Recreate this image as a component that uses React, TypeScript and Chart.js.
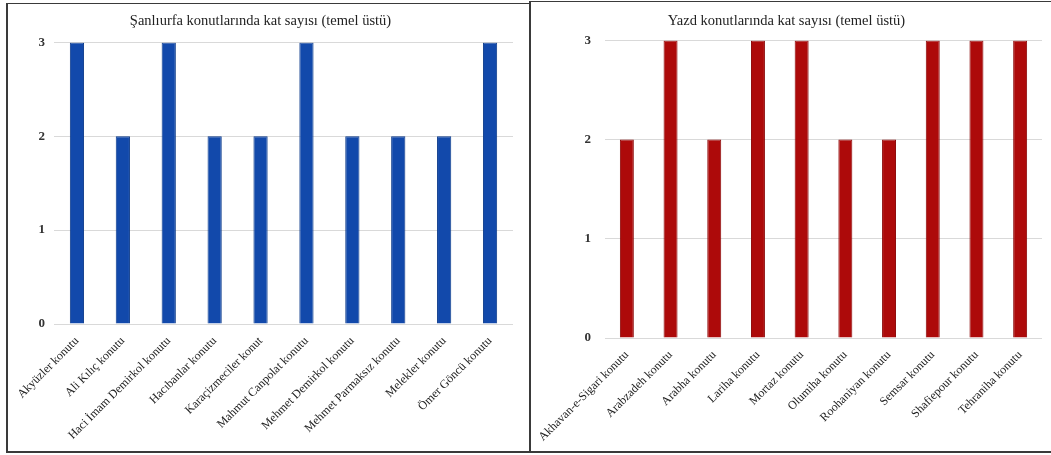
import React, { useEffect, useRef } from "react";
import { Chart, registerables } from "chart.js";

Chart.register(...registerables);

const leftTitle = "Şanlıurfa konutlarında kat sayısı (temel üstü)";
const leftCategories = [
  "Akyüzler konutu",
  "Ali Kılıç konutu",
  "Haci İmam Demirkol konutu",
  "Hacıbanlar konutu",
  "Karaçizmeciler konut",
  "Mahmut Canpolat konutu",
  "Mehmet Demirkol konutu",
  "Mehmet Parmaksız konutu",
  "Melekler konutu",
  "Ömer Göncü konutu",
];
const leftValues = [3, 2, 3, 2, 2, 3, 2, 2, 2, 3];

const rightTitle = "Yazd konutlarında kat sayısı (temel üstü)";
const rightCategories = [
  "Akhavan-e-Sigari konutu",
  "Arabzadeh konutu",
  "Arabha konutu",
  "Lariha konutu",
  "Mortaz konutu",
  "Olumiha konutu",
  "Roohaniyan konutu",
  "Semsar konutu",
  "Shafiepour konutu",
  "Tehraniha konutu",
];
const rightValues = [2, 3, 2, 3, 3, 2, 2, 3, 3, 3];

const yTicks = [0, 1, 2, 3];

const FONT = "'Liberation Serif', 'Times New Roman', serif";

type PanelProps = {
  title: string;
  categories: string[];
  values: number[];
  color: string;
  edge: string;
  width: number;
  height: number;
  yWidth: number;
  xHeight: number;
  padRight: number;
  titlePadTop: number;
  titlePadBottom: number;
  tickPad: number;
  barPct: number;
};

function Panel(p: PanelProps) {
  const ref = useRef<HTMLCanvasElement | null>(null);
  useEffect(() => {
    if (!ref.current) return;
    const chart = new Chart(ref.current, {
      type: "bar",
      data: {
        labels: p.categories,
        datasets: [
          {
            data: p.values,
            backgroundColor: p.color,
            borderColor: p.edge,
            borderWidth: 1,
            barPercentage: p.barPct,
            categoryPercentage: 1,
          },
        ],
      },
      options: {
        animation: false,
        responsive: false,
        maintainAspectRatio: false,
        layout: { padding: { left: 0, right: p.padRight, top: 0, bottom: 0 } },
        plugins: {
          legend: { display: false },
          tooltip: { enabled: false },
          title: {
            display: true,
            text: p.title,
            color: "#222222",
            font: { family: FONT, size: 14.5, weight: "normal" },
            padding: { top: p.titlePadTop, bottom: p.titlePadBottom },
          },
        },
        scales: {
          x: {
            grid: { display: false },
            border: { display: false },
            ticks: {
              color: "#222222",
              font: { family: FONT, size: 12 },
              minRotation: 45,
              maxRotation: 45,
              autoSkip: false,
              padding: 2,
            },
            afterFit: (s: any) => {
              s.height = p.xHeight;
            },
          },
          y: {
            min: 0,
            max: 3,
            afterBuildTicks: (s: any) => {
              s.ticks = yTicks.map((v) => ({ value: v }));
            },
            grid: { color: "#d9d9d9", lineWidth: 1, drawTicks: false },
            border: { display: false },
            ticks: {
              color: "#333333",
              font: { family: FONT, size: 13, weight: "bold" },
              padding: p.tickPad,
            },
            afterFit: (s: any) => {
              s.width = p.yWidth;
            },
          },
        },
      },
    });
    return () => chart.destroy();
  }, []);
  return <canvas ref={ref} width={p.width} height={p.height} style={{ display: "block", width: p.width, height: p.height }} />;
}

export default function App() {
  return (
    <div style={{ position: "absolute", left: 0, top: 0, width: 1051, height: 455, background: "#ffffff", overflow: "hidden" }}>
      <div
        style={{
          position: "absolute",
          left: 6,
          top: 3,
          width: 522,
          height: 447,
          borderLeft: "2px solid #3a3a3a",
          borderTop: "1px solid #3a3a3a",
          borderBottom: "2px solid #3a3a3a",
        }}
      >
        <div style={{ position: "absolute", left: 0, top: 0 }}>
          <Panel
            title={leftTitle}
            categories={leftCategories}
            values={leftValues}
            color="#1249ab"
            edge="#0b3a8a"
            width={522}
            height={447}
            yWidth={46}
            xHeight={127}
            padRight={17}
            titlePadTop={8}
            titlePadBottom={13}
            tickPad={9}
            barPct={0.31}
          />
        </div>
      </div>
      <div
        style={{
          position: "absolute",
          left: 529,
          top: 1,
          width: 522,
          height: 449,
          borderLeft: "2px solid #3a3a3a",
          borderTop: "1px solid #3a3a3a",
          borderBottom: "2px solid #3a3a3a",
        }}
      >
        <div style={{ position: "absolute", left: 0, top: 0 }}>
          <Panel
            title={rightTitle}
            categories={rightCategories}
            values={rightValues}
            color="#ad0a0a"
            edge="#8a0505"
            width={520}
            height={449}
            yWidth={74}
            xHeight={113}
            padRight={9}
            titlePadTop={10}
            titlePadBottom={11}
            tickPad={14}
            barPct={0.32}
          />
        </div>
      </div>
    </div>
  );
}
